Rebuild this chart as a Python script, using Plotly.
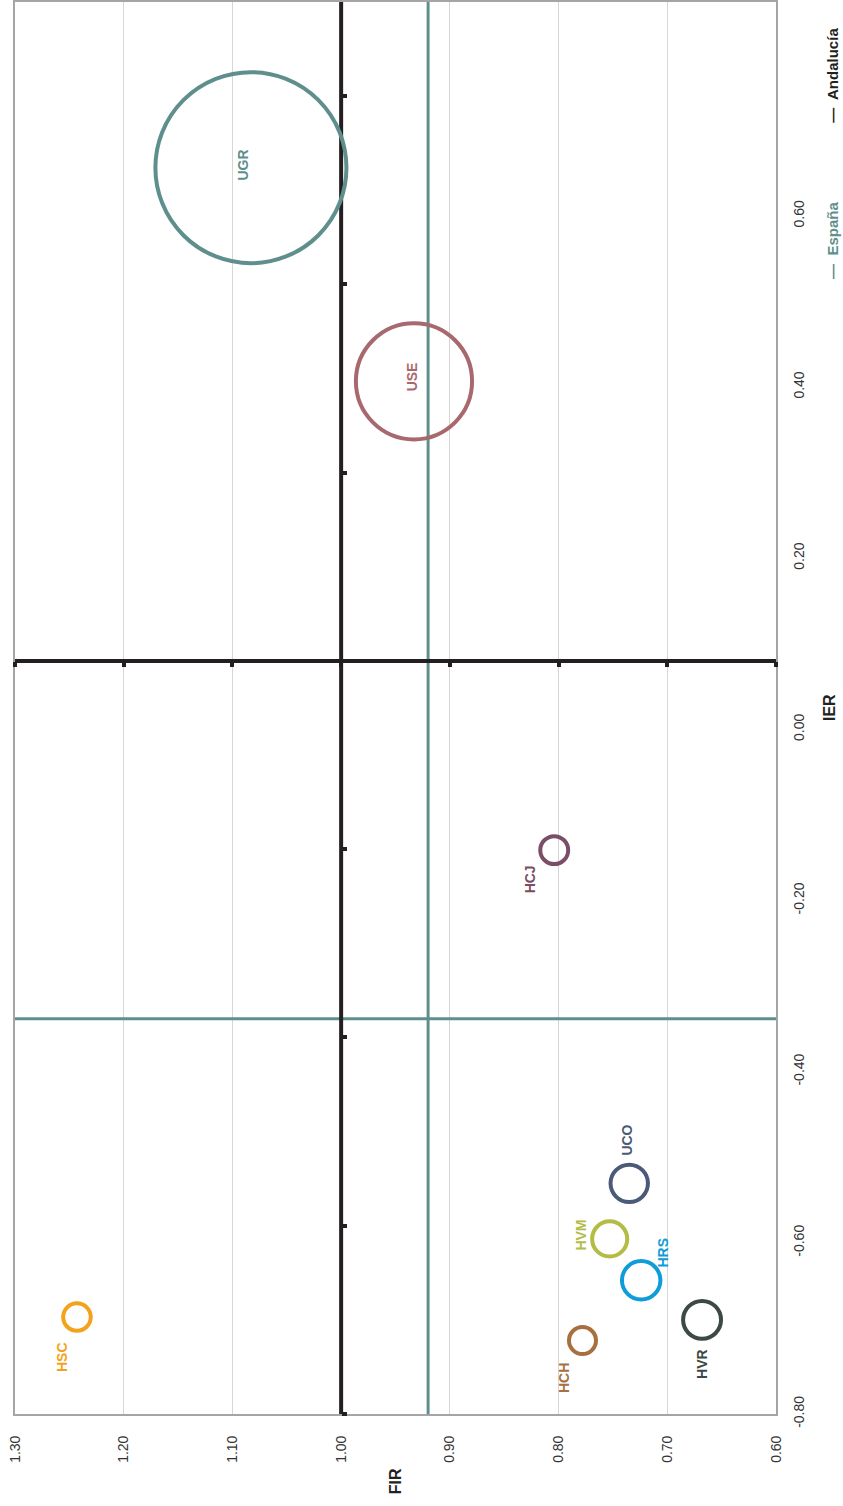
import plotly.graph_objects as go

# ---------------- data ----------------
names = ["UGR", "USE", "HCJ", "UCO", "HVM", "HRS", "HVR", "HCH", "HSC"]
fir = [1.083, 0.933, 0.804, 0.735, 0.753, 0.724, 0.668, 0.778, 1.243]
ier = [0.524, 0.297, -0.201, -0.555, -0.614, -0.658, -0.700, -0.722, -0.697]
bubble = [36.5, 13.5, 0.78, 1.40, 1.23, 1.48, 1.44, 0.73, 0.76]

ANDALUCIA_FIR = 1.00
ANDALUCIA_IER = 0.00
ESPANA_FIR = 0.92
ESPANA_IER = -0.38

fir_ticks = [1.30, 1.20, 1.10, 1.00, 0.90, 0.80, 0.70, 0.60]
ier_ticks = [-0.80, -0.60, -0.40, -0.20, 0.00, 0.20, 0.40, 0.60]
ier_ticktext = ["%.2f" % v for v in ier_ticks]

# ---------------- styles ----------------
colors = ["#5f8f8c", "#a8696e", "#7a4e66", "#4a5a78", "#b3bc45",
          "#109bd9", "#3d4944", "#a8703f", "#f4a21c"]
label_offsets = {  # pixel offsets (dx, dy) of the rotated bubble labels
    "UGR": (-8, 3), "USE": (-2, 5), "HCJ": (-24, -29), "UCO": (-2, 43),
    "HVM": (-29, 4), "HRS": (22, 28), "HVR": (0, -44), "HCH": (-19, -37),
    "HSC": (-15, -40),
}
BLACK = "#231f20"
TEAL = "#5f8f8c"
FONT = "Arial, Liberation Sans, sans-serif"

X_RANGE = [1.30, 0.60]
Y_RANGE = [-0.80, 0.70]
Y_LABEL_RANGE = [-0.80, 0.85]

fig = go.Figure()

# reference lines (España, Andalucía)
fig.add_trace(go.Scatter(x=[ESPANA_FIR, ESPANA_FIR], y=Y_RANGE, mode="lines",
                         line=dict(color=TEAL, width=3), hoverinfo="skip"))
fig.add_trace(go.Scatter(x=X_RANGE, y=[ESPANA_IER, ESPANA_IER], mode="lines",
                         line=dict(color=TEAL, width=3), hoverinfo="skip"))
fig.add_trace(go.Scatter(x=[ANDALUCIA_FIR, ANDALUCIA_FIR], y=Y_RANGE, mode="lines",
                         line=dict(color=BLACK, width=4), hoverinfo="skip"))
fig.add_trace(go.Scatter(x=X_RANGE, y=[ANDALUCIA_IER, ANDALUCIA_IER], mode="lines",
                         line=dict(color=BLACK, width=4), hoverinfo="skip"))

for n, f, i, b, c in zip(names, fir, ier, bubble, colors):
    fig.add_trace(go.Scatter(
        x=[f], y=[i], mode="markers", name=n, hoverinfo="text", text=[n],
        marker=dict(size=[b], sizemode="area", sizeref=0.002, opacity=1,
                    color="rgba(0,0,0,0)", line=dict(color=c, width=4)),
    ))

# helper (invisible) traces so that the auxiliary axes are rendered
fig.add_trace(go.Scatter(x=[ANDALUCIA_FIR], y=[ANDALUCIA_IER], xaxis="x2", yaxis="y3",
                         mode="markers", marker=dict(opacity=0), hoverinfo="skip"))
fig.add_trace(go.Scatter(x=[ANDALUCIA_FIR], y=[ANDALUCIA_IER], xaxis="x", yaxis="y2",
                         mode="markers", marker=dict(opacity=0), hoverinfo="skip"))

# bubble labels
for n, f, i, c in zip(names, fir, ier, colors):
    dx, dy = label_offsets[n]
    fig.add_annotation(x=f, y=i, xref="x", yref="y", text="<b>%s</b>" % n, showarrow=False,
                       textangle=-90, xshift=dx, yshift=dy, xanchor="center", yanchor="middle",
                       font=dict(family=FONT, size=14, color=c))

# axis titles and legend
common = dict(xref="paper", yref="paper", showarrow=False, textangle=-90,
              xanchor="center", yanchor="middle")
fig.add_annotation(x=0.5, y=-0.048, text="<b>FIR</b>",
                   font=dict(family=FONT, size=16, color="#222"), **common)
fig.add_annotation(x=1.0697, y=0.5, text="<b>IER</b>",
                   font=dict(family=FONT, size=16, color="#222"), **common)
fig.add_annotation(x=1.074, y=0.948, text="<b>—  Andalucía</b>",
                   font=dict(family=FONT, size=15, color=BLACK), **common)
fig.add_annotation(x=1.074, y=0.831, text="<b>—  España</b>",
                   font=dict(family=FONT, size=15, color=TEAL), **common)

p_y = (ANDALUCIA_IER - Y_RANGE[0]) / (Y_RANGE[1] - Y_RANGE[0])
p_x = (X_RANGE[0] - ANDALUCIA_FIR) / (X_RANGE[0] - X_RANGE[1])

fig.update_layout(
    width=843, height=1506,
    margin=dict(l=15, r=67, t=2, b=92, autoexpand=False),
    plot_bgcolor="white", paper_bgcolor="white",
    showlegend=False,
    font=dict(family=FONT, size=14, color="#333"),
    xaxis=dict(range=X_RANGE, tickvals=fir_ticks, tickformat=".2f", tickangle=-90,
               showgrid=True, gridcolor="#d6d6d6", gridwidth=1, automargin=False,
               showline=True, mirror=True, linecolor="#a5a5a5", linewidth=2,
               ticks="", zeroline=False, ticklabelstandoff=14,
               tickfont=dict(family=FONT, size=14, color="#333")),
    yaxis=dict(range=Y_RANGE, showticklabels=False, showgrid=False, zeroline=False,
               automargin=False,
               showline=True, mirror=True, linecolor="#a5a5a5", linewidth=2, ticks=""),
    yaxis2=dict(range=Y_LABEL_RANGE, overlaying="y", side="right", anchor="x",
                tickvals=ier_ticks, ticktext=ier_ticktext, tickangle=-90, automargin=False,
                showgrid=False, zeroline=False, showline=False, ticks="",
                ticklabelstandoff=13,
                tickfont=dict(family=FONT, size=14, color="#333")),
    xaxis2=dict(range=X_RANGE, overlaying="x", anchor="free", position=p_y, side="bottom",
                tickvals=fir_ticks, ticks="outside", ticklen=5, tickwidth=4, tickcolor=BLACK,
                automargin=False,
                showticklabels=False, showgrid=False, zeroline=False, showline=False),
    yaxis3=dict(range=Y_RANGE, overlaying="y", anchor="free", position=p_x, side="right",
                tickvals=ier_ticks, ticks="outside", ticklen=5, tickwidth=4, tickcolor=BLACK,
                automargin=False,
                showticklabels=False, showgrid=False, zeroline=False, showline=False),
)

fig.write_html("out.html", config={"displayModeBar": False},
               post_script="document.body.style.margin='0';")
